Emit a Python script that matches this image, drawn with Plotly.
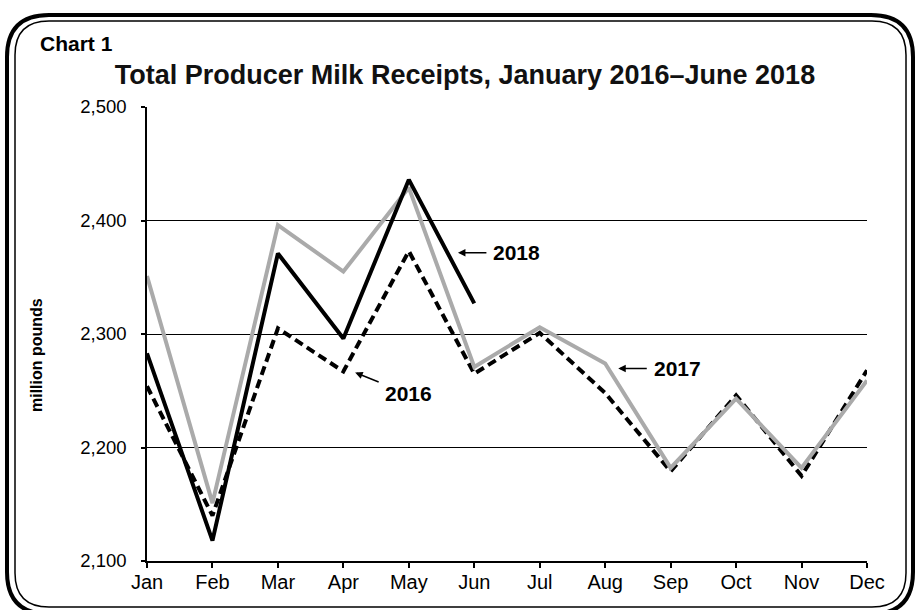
import plotly.graph_objects as go

months = ["Jan", "Feb", "Mar", "Apr", "May", "Jun", "Jul", "Aug", "Sep", "Oct", "Nov", "Dec"]
y2016 = [2254, 2140, 2305, 2267, 2373, 2265, 2301, 2248, 2179, 2246, 2175, 2268]
y2017 = [2351, 2151, 2396, 2355, 2429, 2271, 2306, 2274, 2182, 2243, 2182, 2259]
y2018 = [2283, 2118, 2371, 2296, 2436, 2327]
ytick_vals = [2100, 2200, 2300, 2400, 2500]
ytick_text = ["2,100", "2,200", "2,300", "2,400", "2,500"]

W, H = 916, 610
L, R, T, B = 147, 49, 107, 49
PW, PH = W - L - R, H - T - B

def px(x):
    return (x - L) / PW

def py(y):
    return (H - B - y) / PH

FONT = "Liberation Sans, Arial, sans-serif"

fig = go.Figure()
fig.add_trace(go.Scatter(x=months, y=y2016, mode="lines", name="2016",
                         line=dict(color="black", width=4, dash="9px,5px")))
fig.add_trace(go.Scatter(x=months, y=y2017, mode="lines", name="2017",
                         line=dict(color="#AAAAAA", width=4)))
fig.add_trace(go.Scatter(x=months[:len(y2018)], y=y2018, mode="lines", name="2018",
                         line=dict(color="black", width=4)))

def rrect(x0, y0, x1, y1, r):
    a, b, c, d = px(x0), py(y0), px(x1), py(y1)
    rx, ry = r / PW, r / PH
    return (f"M {a+rx},{b} L {c-rx},{b} Q {c},{b} {c},{b-ry} "
            f"L {c},{d+ry} Q {c},{d} {c-rx},{d} L {a+rx},{d} "
            f"Q {a},{d} {a},{d+ry} L {a},{b-ry} Q {a},{b} {a+rx},{b} Z")

shapes = [
    dict(type="path", xref="paper", yref="paper", path=rrect(7, 15, 913, 614, 42),
         line=dict(color="black", width=4)),
    dict(type="path", xref="paper", yref="paper", path=rrect(15, 21, 906, 607, 34),
         line=dict(color="black", width=1.5)),
]

annotations = [
    dict(text="<b>Chart 1</b>", xref="paper", yref="paper", x=px(38), y=py(44),
         xanchor="left", yanchor="middle", showarrow=False,
         font=dict(family=FONT, size=21, color="black")),
    dict(text="<b>million pounds</b>", xref="paper", yref="paper", x=px(36), y=py(355),
         xanchor="center", yanchor="middle", textangle=-90, showarrow=False,
         font=dict(family=FONT, size=16, color="black")),
    # 2018
    dict(text="", x=4.75, y=2371.6, ax=30, ay=0, showarrow=True,
         arrowhead=2, arrowsize=1, arrowwidth=1.5, arrowcolor="black"),
    dict(text="<b>2018</b>", x=5.65, y=2371.6, showarrow=False,
         font=dict(family=FONT, size=21, color="black")),
    # 2016
    dict(text="", x=3.18, y=2266, ax=25, ay=10, showarrow=True,
         arrowhead=2, arrowsize=1, arrowwidth=1.5, arrowcolor="black"),
    dict(text="<b>2016</b>", x=3.99, y=2247.4, showarrow=False,
         font=dict(family=FONT, size=21, color="black")),
    # 2017
    dict(text="", x=7.20, y=2269.5, ax=30, ay=0, showarrow=True,
         arrowhead=2, arrowsize=1, arrowwidth=1.5, arrowcolor="black"),
    dict(text="<b>2017</b>", x=8.10, y=2269.5, showarrow=False,
         font=dict(family=FONT, size=21, color="black")),
]

fig.update_layout(
    width=W, height=H,
    margin=dict(l=L, r=R, t=T, b=B),
    paper_bgcolor="white", plot_bgcolor="white",
    showlegend=False,
    title=dict(text="<b>Total Producer Milk Receipts, January 2016–June 2018</b>",
               x=465 / W, y=1 - 75 / H, xanchor="center", yanchor="middle",
               font=dict(family=FONT, size=27, color="#111111")),
    shapes=shapes,
    annotations=annotations,
    xaxis=dict(type="category", categoryorder="array", categoryarray=months,
               range=[0, 11], showgrid=False, zeroline=False,
               showline=True, linecolor="black", linewidth=1.5,
               ticks="outside", ticklen=5, tickwidth=1.5, tickcolor="black",
               ticklabelstandoff=-3,
               tickfont=dict(family=FONT, size=20, color="black")),
    yaxis=dict(range=[2100, 2500], tickvals=ytick_vals, ticktext=ytick_text,
               showgrid=True, gridcolor="black", gridwidth=1, zeroline=False,
               showline=True, linecolor="black", linewidth=1.5,
               ticks="outside", ticklen=4, tickwidth=1.5, tickcolor="black",
               ticklabelstandoff=11,
               tickfont=dict(family=FONT, size=18.5, color="black")),
)

fig.write_html("out.html", config={"displayModeBar": False},
               post_script="document.body.style.margin='0px';document.body.style.overflow='hidden';")
